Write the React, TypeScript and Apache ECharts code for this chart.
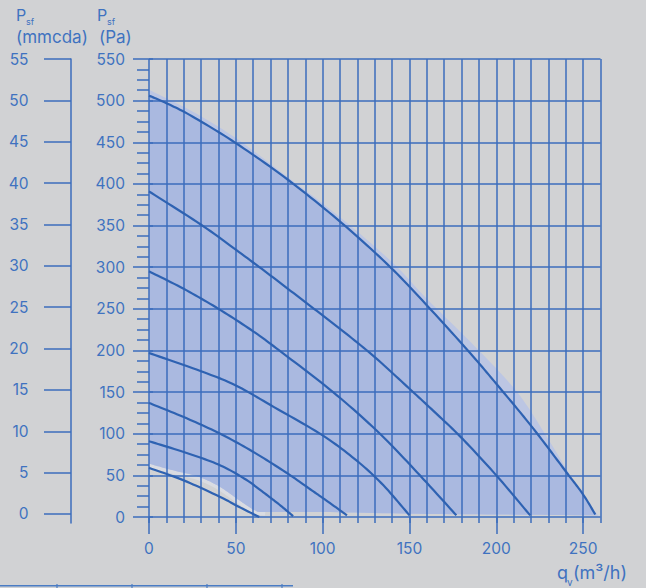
import React, { useEffect, useRef } from 'react';
import * as echarts from 'echarts';

// Tick labels
const qTicks = [0, 50, 100, 150, 200, 250];
const mmcdaTicks = [0, 5, 10, 15, 20, 25, 30, 35, 40, 45, 50, 55];

// Fan curves: [q (m3/h), Psf (Pa)]
const curve1 = [[0, 506], [10, 497], [25, 481], [50, 449], [80, 405], [111, 353], [139, 300], [161, 252], [183.6, 200], [200, 160], [221, 107], [241, 52], [250, 27], [257, 3]];
const curve2 = [[0, 391], [30, 351], [50, 321], [70, 290], [90, 258], [110, 226], [130, 192], [150, 154], [165, 125], [180, 95], [200, 50], [219.5, 2]];
const curve3 = [[0, 295], [20, 274], [40, 250], [60, 223], [75, 200], [106, 150], [133, 100], [156, 50], [177, 2]];
const curve4 = [[0, 197], [30, 175], [50, 158], [72, 132], [100, 98], [120, 67], [135, 38], [150, 2]];
const curve5 = [[0, 137], [20, 120], [41, 100], [61, 77], [80, 52], [91, 36], [102, 20], [114, 2]];
const curve6 = [[0, 91], [20, 78], [40, 63], [55, 46], [65, 31], [75, 15], [83, 1]];
const curve7 = [[0, 59], [20, 44], [41, 24], [52, 12], [63.5, 0]];

// Working-area envelope
const envelopeOuter = [[0, 513], [25, 487], [50, 455], [80, 408], [110, 360], [140, 306], [160, 262], [190, 200], [212, 150], [228, 100], [242, 52], [250, 28], [258, 3]];
const lowerBoundary = [[0, 64], [14, 56], [29, 48], [41, 36], [52, 20], [61, 8], [67, 6], [100, 6], [150, 4], [200, 3], [259, 2]];

const curves = [curve1, curve2, curve3, curve4, curve5, curve6, curve7];

const BG = '#d1d2d4';
const BLUE = '#3b6dbd';
const TEXT = '#3f72c0';
const CURVE = '#2e62b2';
const FILL = '#aab9e0';
const BAND = '#bcc6e3';
const GLOW = '#dadce2';
const FONT = 'Inter';

function smoothPts(pts: number[][], steps = 10): number[][] {
  const out: number[][] = [];
  const n = pts.length;
  for (let i = 0; i < n - 1; i++) {
    const p0 = pts[Math.max(i - 1, 0)], p1 = pts[i], p2 = pts[i + 1], p3 = pts[Math.min(i + 2, n - 1)];
    for (let s = 0; s < steps; s++) {
      const t = s / steps, t2 = t * t, t3 = t2 * t;
      out.push([0, 1].map(k => 0.5 * (2 * p1[k] + (-p0[k] + p2[k]) * t + (2 * p0[k] - 5 * p1[k] + 4 * p2[k] - p3[k]) * t2 + (-p0[k] + 3 * p1[k] - 3 * p2[k] + p3[k]) * t3)));
    }
  }
  out.push(pts[n - 1]);
  return out;
}

export default function App() {
  const ref = useRef<HTMLDivElement>(null);
  useEffect(() => {
    document.body.style.margin = '0';
    document.body.style.background = BG;
    const chart = echarts.init(ref.current!, null, { renderer: 'svg' });
    const line = { color: BLUE, width: 1.5 };
    const label = { color: TEXT, fontSize: 15.5, fontFamily: FONT };
    const option: any = {
      animation: false,
      backgroundColor: BG,
      grid: [
        { left: 149, top: 59, width: 451.5, height: 458 },
        { left: 71, top: 59, width: 1, height: 464 },
      ],
      xAxis: [
        {
          gridIndex: 0, type: 'value', min: 0, max: 260, interval: 10, z: 1,
          axisLine: { show: false },
          axisTick: { show: true, length: 6, lineStyle: line },
          axisLabel: { show: false },
          splitLine: { show: true, lineStyle: line },
        },
        {
          gridIndex: 0, type: 'value', min: 0, max: 260, position: 'bottom', z: 1,
          axisLine: { show: false },
          axisTick: { show: true, length: 17, customValues: qTicks, lineStyle: line },
          axisLabel: { show: true, customValues: qTicks, margin: 23, ...label },
          splitLine: { show: false },
        },
        { gridIndex: 1, type: 'value', show: false, min: 0, max: 1 },
      ],
      yAxis: [
        {
          gridIndex: 0, type: 'value', min: 0, max: 550, interval: 50, z: 1,
          axisLine: { show: false },
          axisTick: { show: true, length: 16, lineStyle: line },
          minorTick: { show: true, splitNumber: 4, length: 12, lineStyle: line },
          axisLabel: { margin: 24, ...label },
          splitLine: { show: true, lineStyle: line },
        },
        {
          gridIndex: 0, type: 'value', min: 0, max: 550, interval: 50, position: 'right', z: 1,
          axisLine: { show: false },
          axisTick: { show: true, length: 4, lineStyle: line },
          axisLabel: { show: false },
          splitLine: { show: false },
        },
        {
          gridIndex: 1, type: 'value', min: -1.09, max: 55, position: 'left', z: 1,
          axisLine: { show: true, lineStyle: line },
          axisTick: { show: true, length: 27, customValues: mmcdaTicks, lineStyle: line },
          axisLabel: { show: true, customValues: mmcdaTicks, margin: 42.5, ...label },
          splitLine: { show: false },
        },
      ],
      graphic: [
        { type: 'text', x: 16, y: 15, style: { text: 'P', fill: TEXT, font: `16px ${FONT}`, verticalAlign: 'middle' } },
        { type: 'text', x: 26, y: 21.5, style: { text: 'sf', fill: TEXT, font: `9px ${FONT}`, verticalAlign: 'middle' } },
        { type: 'text', x: 16, y: 36.5, style: { text: '(mmcda)', fill: TEXT, font: `17px ${FONT}`, verticalAlign: 'middle' } },
        { type: 'text', x: 97, y: 15, style: { text: 'P', fill: TEXT, font: `16px ${FONT}`, verticalAlign: 'middle' } },
        { type: 'text', x: 107, y: 21.5, style: { text: 'sf', fill: TEXT, font: `9px ${FONT}`, verticalAlign: 'middle' } },
        { type: 'text', x: 99, y: 36.5, style: { text: '(Pa)', fill: TEXT, font: `17px ${FONT}`, verticalAlign: 'middle' } },
        { type: 'text', x: 557, y: 572, style: { text: 'q', fill: TEXT, font: `18px ${FONT}`, verticalAlign: 'middle' } },
        { type: 'text', x: 567, y: 582, style: { text: 'v', fill: TEXT, font: `10px ${FONT}`, verticalAlign: 'middle' } },
        { type: 'text', x: 573, y: 572, style: { text: '(m³/h)', fill: TEXT, font: `18px ${FONT}`, verticalAlign: 'middle' } },
        { type: 'line', shape: { x1: 0, y1: 585.7, x2: 293, y2: 585.7 }, style: { stroke: '#4a7cc4', lineWidth: 1.5 } },
        ...[57, 132, 207, 282].map(x => ({ type: 'line', shape: { x1: x, y1: 584, x2: x, y2: 588 }, style: { stroke: '#4a7cc4', lineWidth: 1.2 } })),
      ],
      series: [
        {
          type: 'custom', xAxisIndex: 0, yAxisIndex: 0, z: 0, silent: true, clip: false,
          data: [[0, 0]],
          renderItem: (_params: any, api: any) => {
            const toPx = (arr: number[][]) => arr.map(p => api.coord(p));
            const outer = smoothPts(toPx(envelopeOuter));
            const inner = smoothPts(toPx(curve1));
            const lower = smoothPts(toPx(lowerBoundary));
            const glow = smoothPts(toPx(lowerBoundary.slice(0, 7)));
            const lowerRev = lower.slice().reverse();
            return {
              type: 'group',
              children: [
                { type: 'polyline', shape: { points: glow }, style: { stroke: GLOW, lineWidth: 7, fill: null } },
                { type: 'polygon', shape: { points: [...outer, ...lowerRev] }, style: { fill: BAND } },
                { type: 'polygon', shape: { points: [...inner, ...lowerRev] }, style: { fill: FILL } },
              ],
            };
          },
        },
        ...curves.map((c, ci) => ({
          type: 'custom', name: `curve${ci + 1}`, xAxisIndex: 0, yAxisIndex: 0, z: 3, silent: true, clip: false,
          data: c,
          renderItem: (params: any, api: any) => {
            if (params.dataIndex !== 0) return null;
            const pts = smoothPts(c.map(p => api.coord(p)), 12);
            return {
              type: 'polyline',
              shape: { points: pts },
              style: { stroke: CURVE, lineWidth: 2.2, fill: null, lineJoin: 'round' },
            };
          },
        })),
      ],
    };
    chart.setOption(option);
    return () => chart.dispose();
  }, []);
  return <div ref={ref} style={{ width: 646, height: 588 }} />;
}
